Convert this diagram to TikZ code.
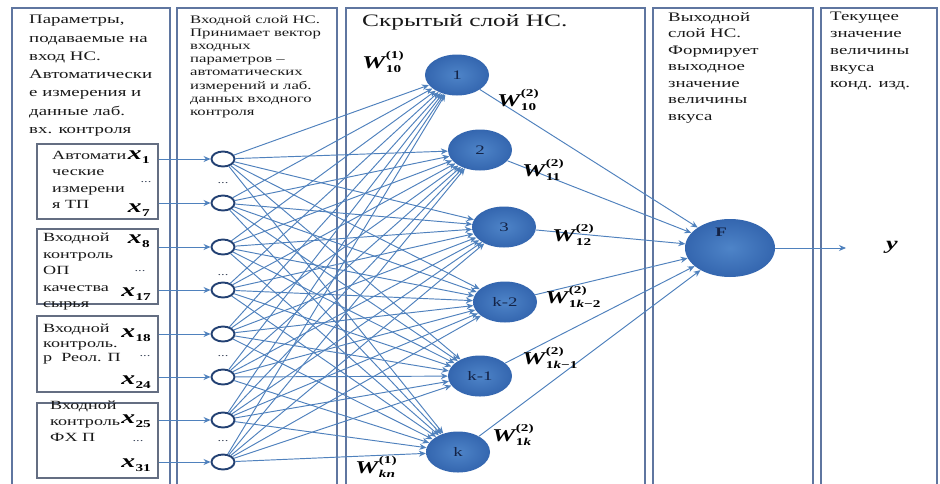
\documentclass[tikz,border=0pt]{standalone}
\usepackage{fontspec}
\setmainfont[FakeStretch=1.45]{Liberation Serif}
\usetikzlibrary{shapes.geometric,arrows.meta}
\definecolor{edgec}{RGB}{79,129,189}
\definecolor{panelc}{RGB}{95,118,160}
\definecolor{boxc}{RGB}{100,110,130}
\definecolor{nin}{RGB}{78,132,200}
\definecolor{nout}{RGB}{52,102,175}
\definecolor{ringc}{RGB}{35,65,115}
\definecolor{txtc}{RGB}{25,25,25}
\definecolor{nlab}{RGB}{20,35,70}
\definecolor{dotc}{RGB}{60,70,90}
\newcommand\wsf{\fontsize{10.5}{10.5}\selectfont\bfseries}
\newcommand\wlab[2]{{\fontsize{18}{18}\selectfont\bfseries\itshape W}\kern0.5pt\rlap{\raisebox{10pt}{\wsf #1}}\raisebox{-4.5pt}{\wsf #2}}
\newcommand\xlab[1]{{\fontsize{19}{19}\selectfont\bfseries\itshape x}\kern0.5pt\raisebox{-3.5pt}{\wsf #1}}
\begin{document}
\begin{tikzpicture}[x=1pt,y=-1pt,
  panelbox/.style={draw=panelc,line width=1.5pt,fill=white},
  inbox/.style={draw=boxc,line width=1.5pt,anchor=north west,inner sep=0pt},
  inn/.style={ellipse,draw=ringc,line width=1.9pt,fill=white,minimum width=23pt,minimum height=15pt,inner sep=0pt},
  hid/.style={ellipse,inner color=nin,outer color=nout,minimum width=64pt,minimum height=41pt,inner sep=0pt,font=\fontsize{13}{13}\selectfont,text=nlab},
  conn/.style={draw=edgec,line width=0.95pt,-{Stealth[length=7pt,width=6pt]}},
  hdr/.style={anchor=north west,align=left,inner sep=0pt,text=txtc},
  lab/.style={inner sep=0pt,text=black},
  dots/.style={inner sep=0pt,text=dotc,font=\fontsize{10}{10}\selectfont}
]
\useasboundingbox (0,0) rectangle (940,483);
\fill[white] (0,0) rectangle (940,483);
% panels
\draw[panelbox] (12,8) rectangle (170,486);
\draw[panelbox] (177,8) rectangle (337,486);
\draw[panelbox] (346,8) rectangle (645,486);
\draw[panelbox] (653,8) rectangle (813,486);
\draw[panelbox] (821,8) rectangle (937,486);
% headers
\node[hdr,font=\fontsize{13}{18.3}\selectfont] (t1) at (29,15) {Параметры,\\подаваемые на\\вход НС.\\Автоматически\\е измерения и\\данные лаб.\\вх. контроля};
\node[hdr,font=\fontsize{11.5}{13.2}\selectfont] (t2) at (190,15) {Входной слой НС.\\Принимает вектор\\входных\\параметров –\\автоматических\\измерений и лаб.\\данных входного\\контроля};
\node[hdr,font=\fontsize{17.5}{17.5}\selectfont] (t3) at (362,14) {Скрытый слой НС.};
\node[hdr,font=\fontsize{13}{16.5}\selectfont] (t4) at (668,12) {Выходной\\слой НС.\\Формирует\\выходное\\значение\\величины\\вкуса};
\node[hdr,font=\fontsize{13}{16.8}\selectfont] (t5) at (830,12) {Текущее\\значение\\величины\\вкуса\\конд. изд.};
% input boxes
\node[inbox,minimum width=121pt,minimum height=75pt] (b1) at (36,143) {};
\node[inbox,minimum width=121pt,minimum height=75pt] (b2) at (36,228) {};
\node[inbox,minimum width=121pt,minimum height=76pt] (b3) at (36,315) {};
\node[inbox,minimum width=121pt,minimum height=75pt] (b4) at (36,402) {};
\node[hdr,font=\fontsize{12.5}{16.3}\selectfont] (bt1) at (52,151) {Автомати\\ческие\\измерени\\я ТП};
\node[hdr,font=\fontsize{12.5}{16.5}\selectfont] (bt2) at (43,233) {Входной\\контроль\\ОП\\качества\\сырья};
\node[hdr,font=\fontsize{12.5}{14.5}\selectfont] (bt3) at (43,324) {Входной\\контроль.\\р\ \ Реол. П};
\node[hdr,font=\fontsize{12.5}{16}\selectfont] (bt4) at (50,401) {Входной\\контроль\\ФХ П};
% x labels
\node[lab,anchor=east] (x1) at (150,157) {\xlab{1}};
\node[lab,anchor=east] (x7) at (150,210) {\xlab{7}};
\node[lab,anchor=east] (x8) at (150,241) {\xlab{8}};
\node[lab,anchor=east] (x17) at (151,294) {\xlab{17}};
\node[lab,anchor=east] (x18) at (151,335) {\xlab{18}};
\node[lab,anchor=east] (x24) at (151,382) {\xlab{24}};
\node[lab,anchor=east] (x25) at (151,421) {\xlab{25}};
\node[lab,anchor=east] (x31) at (151,465) {\xlab{31}};
\node[dots] (bd1) at (146,182) {...};
\node[dots] (bd2) at (140,271) {...};
\node[dots] (bd3) at (145,356) {...};
\node[dots] (bd4) at (138,441) {...};
% input neurons
\foreach \n/\y in {1/159,2/203,3/247,4/290,5/334,6/377,7/420,8/462}
  \node[inn] (i\n) at (223,\y) {};
\node[dots] (d1) at (223,183) {...};
\node[dots] (d2) at (223,275) {...};
\node[dots] (d3) at (223,356) {...};
\node[dots] (d4) at (223,441) {...};
% hidden neurons
\node[hid] (h1) at (457,75) {1};
\node[hid] (h2) at (480,150) {2};
\node[hid] (h3) at (504,227) {3};
\node[hid] (h4) at (505,302) {k-2};
\node[hid] (h5) at (480,376) {k-1};
\node[hid] (h6) at (458,452) {k};
% output neuron
\node[ellipse,inner color=nin,outer color=nout,minimum width=90pt,minimum height=58pt,inner sep=0pt] (F) at (730,248) {};
\node[lab,text=nlab,font=\fontsize{13}{13}\selectfont\bfseries] (Flab) at (721,232) {F};
\coordinate (yend) at (846,248);
\node[lab,font=\fontsize{18}{18}\selectfont\bfseries\itshape] (ylab) at (892,247) {y};
% connections
\foreach \i/\b in {1/1,2/1,3/2,4/2,5/3,6/3,7/4,8/4}
  \draw[conn] (b\b.east |- i\i) -- (i\i);
\foreach \i in {1,...,8}
  \foreach \j in {1,...,6}
    \draw[conn] (i\i) -- (h\j);
\foreach \j in {1,...,6}
  \draw[conn] (h\j) -- (F);
\draw[conn] (F.east) -- (yend);
% weights
\node[lab,anchor=west] (w1) at (362,62) {\wlab{(1)}{10}};
\node[lab,anchor=west] (w2) at (497,100) {\wlab{(2)}{10}};
\node[lab,anchor=west] (w3) at (522,170) {\wlab{(2)}{11}};
\node[lab,anchor=west] (w4) at (552,235) {\wlab{(2)}{12}};
\node[lab,anchor=west] (w5) at (545,297) {\wlab{(2)}{1\textit{k}−2}};
\node[lab,anchor=west] (w6) at (522,358) {\wlab{(2)}{1\textit{k}−1}};
\node[lab,anchor=west] (w7) at (492,435) {\wlab{(2)}{1\textit{k}}};
\node[lab,anchor=west] (w8) at (355,467) {\wlab{(1)}{\textit{kn}}};
\end{tikzpicture}
\end{document}
